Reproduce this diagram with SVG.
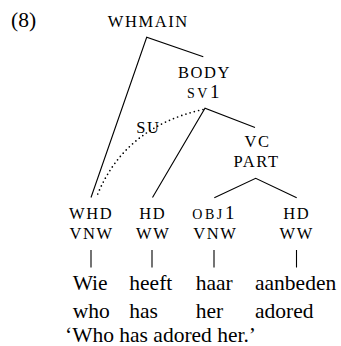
<svg xmlns="http://www.w3.org/2000/svg" width="341" height="346" viewBox="0 0 341 346">
<style>
text{font-family:"Liberation Serif","Times New Roman",serif;fill:#000}
.sc{font-size:16.5px;letter-spacing:1.6px;text-anchor:middle}
.sm{font-size:14px;letter-spacing:2.6px;text-anchor:middle}
.d{font-size:19px;letter-spacing:0}
.w{font-size:21.5px}
.ln{stroke:#000;stroke-width:1.1;fill:none}
.dot{stroke:#000;stroke-width:1.7;fill:none;stroke-dasharray:0 4.4;stroke-linecap:round}
</style>
<rect width="341" height="346" fill="#fff"/>
<text class="w" x="11" y="27">(8)</text>
<g id="connectors">
<polyline class="ln" points="91,197.5 146.7,37.3 203.3,56.7"/>
<polyline class="ln" points="152.5,197.5 205,108.3 255,127.5"/>
<path class="dot" d="M203,109.5 Q124,127 96.5,197"/>
<polyline class="ln" points="214.3,197.7 255.7,178.3 296.7,197.7"/>
<line class="ln" x1="91" y1="250" x2="91" y2="267.5"/>
<line class="ln" x1="152" y1="250" x2="152" y2="267.5"/>
<line class="ln" x1="214" y1="250" x2="214" y2="267.5"/>
<line class="ln" x1="296.5" y1="250" x2="296.5" y2="267.5"/>
</g>
<g id="whmain"><text class="sc" x="148.3" y="26.5">WHMAIN</text></g>
<g id="body"><text class="sc" x="204.5" y="78">BODY</text><text class="sm" x="203.3" y="97.5">SV<tspan class="d">1</tspan></text></g>
<g id="su"><text class="sc" x="148.3" y="133.3">SU</text></g>
<g id="vc"><text class="sc" x="257.5" y="146.7">VC</text><text class="sc" x="256.6" y="167.3">PART</text></g>
<g id="whd"><text class="sc" x="91.1" y="219">WHD</text><text class="sc" x="91.6" y="239">VNW</text>
<text class="w" x="72.7" y="290">Wie</text><text class="w" x="72.7" y="317.5">who</text></g>
<g id="hd1"><text class="sc" x="152.8" y="219">HD</text><text class="sc" x="153.3" y="239">WW</text>
<text class="w" x="129.3" y="290">heeft</text><text class="w" x="129.3" y="317.5">has</text></g>
<g id="obj1"><text class="sm" x="213.3" y="219">OBJ<tspan class="d">1</tspan></text><text class="sc" x="215.3" y="239">VNW</text>
<text class="w" x="195.7" y="290">haar</text><text class="w" x="195.7" y="317.5">her</text></g>
<g id="hd2"><text class="sc" x="296.8" y="219">HD</text><text class="sc" x="296.8" y="239">WW</text>
<text class="w" x="255" y="290">aanbeden</text><text class="w" x="255" y="317.5">adored</text></g>
<text class="w" x="65" y="342">‘Who has adored her.’</text>
</svg>
